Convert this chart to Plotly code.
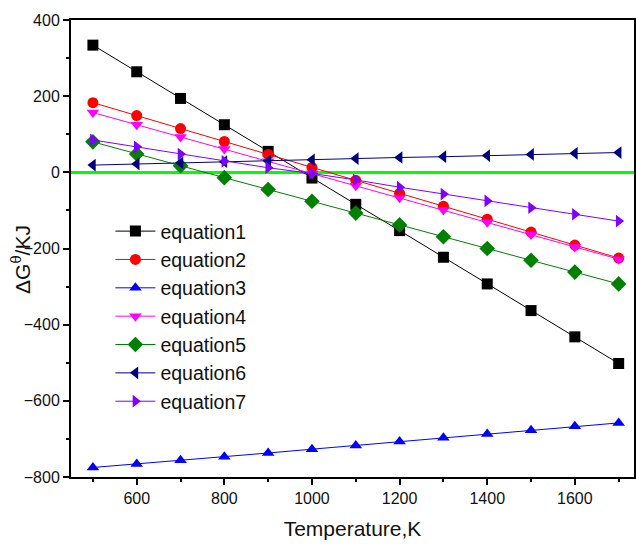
import plotly.graph_objects as go

temps = [500, 600, 700, 800, 900, 1000, 1100, 1200, 1300, 1400, 1500, 1600, 1700]
eq1 = [334, 264, 194, 125, 55, -15, -84, -153, -223, -293, -363, -432, -502]
eq2 = [183, 149, 115, 81, 47, 13, -21, -55, -89, -123, -157, -191, -225]
eq3 = [-775, -766, -756, -747, -737, -727, -717, -707, -697, -687, -677, -667, -658]
eq4 = [157, 125, 93, 61, 29, -3, -35, -67, -99, -131, -163, -196, -228]
eq5 = [80, 48, 17, -14, -45, -76, -107, -138, -169, -200, -231, -262, -293]
eq6 = [19, 22, 25, 28, 30, 33, 36, 39, 41, 44, 47, 50, 52]
eq7 = [85, 67, 48, 29, 12, -3, -20, -39, -57, -75, -93, -110, -128]

series = [
    ("equation1", eq1, "#000000", "square"),
    ("equation2", eq2, "#ff0000", "circle"),
    ("equation3", eq3, "#0000ff", "triangle-up"),
    ("equation4", eq4, "#ff00ff", "triangle-down"),
    ("equation5", eq5, "#008000", "diamond"),
    ("equation6", eq6, "#000080", "triangle-left"),
    ("equation7", eq7, "#8000ff", "triangle-right"),
]

fig = go.Figure()
for name, vals, color, sym in series:
    size = 12 if sym == "diamond" else 11
    fig.add_trace(go.Scatter(
        x=temps, y=vals, name=name, mode="lines+markers",
        line=dict(color=color, width=1),
        marker=dict(symbol=sym, size=size, color=color, line=dict(width=0)),
    ))

font_family = "Liberation Sans, Arial, sans-serif"

fig.update_layout(
    width=636, height=545,
    margin=dict(l=71, r=0, t=20, b=68),
    paper_bgcolor="white", plot_bgcolor="white",
    font=dict(family=font_family, color="#111111", size=16),
    showlegend=True,
    legend=dict(
        x=0.07, y=0.58, xanchor="left", yanchor="top",
        bgcolor="rgba(0,0,0,0)", borderwidth=0,
        font=dict(size=19.5, family=font_family, color="#111111"),
        tracegroupgap=0, itemwidth=40,
    ),
    xaxis=dict(
        range=[450, 1735], tick0=0, dtick=200,
        showgrid=False, zeroline=False,
        showline=True, linecolor="black", linewidth=2, mirror=True,
        ticks="outside", ticklen=6, tickwidth=1.5, tickcolor="black",
        minor=dict(ticks="outside", ticklen=3, dtick=100, tick0=0, tickcolor="black", tickwidth=1.5),
        tickfont=dict(size=16),
        title=dict(text="Temperature,K", font=dict(size=21), standoff=15),
    ),
    yaxis=dict(
        range=[-800, 400], tick0=0, dtick=200,
        showgrid=False,
        zeroline=True, zerolinecolor="#00ff00", zerolinewidth=2.5,
        showline=True, linecolor="black", linewidth=2, mirror=True,
        ticks="outside", ticklen=6, tickwidth=1.5, tickcolor="black",
        minor=dict(ticks="outside", ticklen=3, dtick=100, tick0=0, tickcolor="black", tickwidth=1.5),
        tickfont=dict(size=16),
    ),
    annotations=[dict(
        text="ΔG<sup>θ</sup>/KJ", textangle=-90,
        xref="paper", yref="paper", x=0, y=0.475,
        xanchor="center", yanchor="middle", xshift=-50,
        showarrow=False, font=dict(size=21, family=font_family, color="#111111"),
    )],
)

fig.write_html("out.html")
